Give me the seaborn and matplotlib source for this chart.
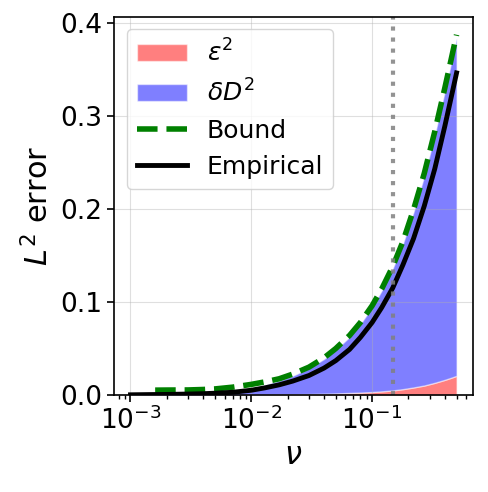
import numpy as np
import pandas as pd
import matplotlib
matplotlib.use("Agg")
import matplotlib.pyplot as plt
import seaborn as sns

# viscosity values (x axis)
nu = [0.001, 0.0016, 0.002, 0.003, 0.004, 0.005, 0.007, 0.01, 0.013, 0.017, 0.022, 0.03, 0.04,
      0.05, 0.065, 0.08, 0.1, 0.12, 0.148, 0.18, 0.22, 0.27, 0.33, 0.4, 0.45, 0.5]

# epsilon^2 part (red)
eps_sq = [0.0, 0.0001, 0.0001, 0.0001, 0.0002, 0.0002, 0.0003, 0.0004, 0.0005, 0.0007, 0.0009,
          0.0011, 0.0015, 0.0018, 0.0023, 0.0027, 0.0033, 0.004, 0.005, 0.0064, 0.0082, 0.0103,
          0.0132, 0.0164, 0.0186, 0.0207]

# delta D^2 part (blue), stacked on top of eps_sq
delta_d_sq = [0.0003, 0.0004, 0.0006, 0.0011, 0.0016, 0.0023, 0.004, 0.0074, 0.0105, 0.0148,
              0.0198, 0.0277, 0.0373, 0.0469, 0.0602, 0.0738, 0.0912, 0.1083, 0.131, 0.1564,
              0.1883, 0.2249, 0.2666, 0.3101, 0.3379, 0.3628]

bound = [np.nan, 0.0053, 0.0054, 0.0055, 0.006, 0.0066, 0.0085, 0.0115, 0.0142, 0.0175, 0.0225,
         0.030, 0.040, 0.050, 0.064, 0.078, 0.096, 0.114, 0.138, 0.165, 0.199, 0.238, 0.283,
         0.33, 0.36, 0.387]

empirical = [0.0003, 0.0006, 0.0007, 0.0011, 0.0015, 0.002, 0.003, 0.0052, 0.0078, 0.011, 0.015,
             0.021, 0.029, 0.037, 0.049, 0.062, 0.078, 0.094, 0.115, 0.14, 0.168, 0.203, 0.243,
             0.289, 0.319, 0.346]

nu_star = 0.148

df = pd.DataFrame({"nu": nu, "eps": eps_sq, "dD": delta_d_sq, "bound": bound, "emp": empirical})
df["top"] = df["eps"] + df["dD"]

fig, ax = plt.subplots(figsize=(4.88, 4.92), dpi=100)

ax.fill_between(df["nu"], 0, df["eps"], color="red", alpha=0.5, edgecolor="white", lw=1,
                label=r"$\varepsilon^2$")
ax.fill_between(df["nu"], df["eps"], df["top"], color="blue", alpha=0.5, edgecolor="white", lw=1,
                label=r"$\delta D^2$")
sns.lineplot(data=df.dropna(subset=["bound"]), x="nu", y="bound", ax=ax, color="green",
             lw=4, ls="--", label="Bound")
sns.lineplot(data=df, x="nu", y="emp", ax=ax, color="black", lw=3.5, label="Empirical")
ax.axvline(nu_star, color="grey", ls=":", lw=3, alpha=0.85)

ax.set_xscale("log")
ax.set_ylim(bottom=0)
ax.grid(alpha=0.4)
ax.set_xlabel(r"$\nu$", fontsize=22)
ax.set_ylabel(r"$L^2$ error", fontsize=22)
ax.tick_params(labelsize=19, length=5, width=1.2)
ax.tick_params(which="minor", length=3, width=1)
for s in ax.spines.values():
    s.set_linewidth(1.2)
ax.legend(loc="upper left", fontsize=18)

plt.subplots_adjust(left=0.234, right=0.969, top=0.966, bottom=0.197)
plt.savefig("out.png", dpi=100)
